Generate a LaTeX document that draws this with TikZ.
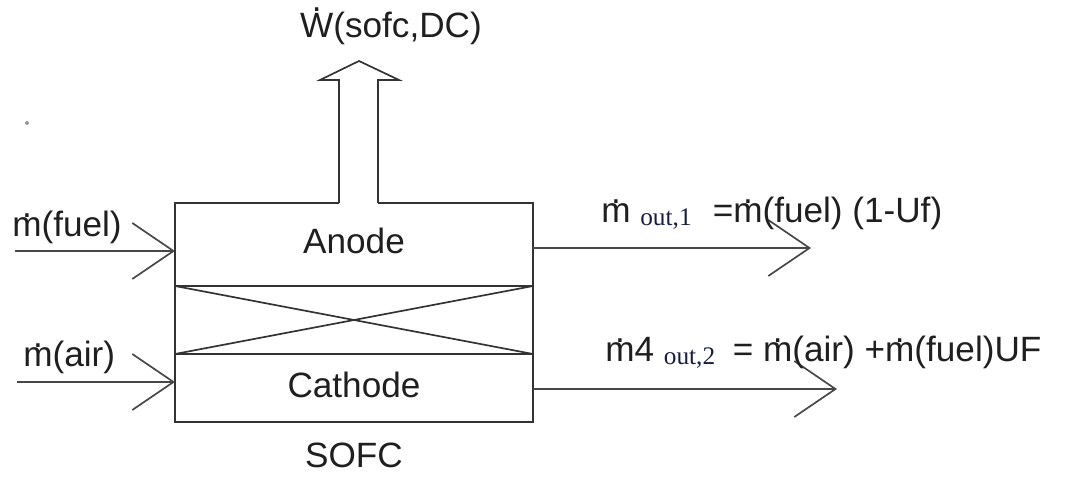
\documentclass[tikz,border=0pt]{standalone}
\usepackage{fontspec}
\setmainfont{Liberation Sans}
\newfontfamily\subfont{Liberation Serif}
\usetikzlibrary{arrows.meta}
\definecolor{subblue}{RGB}{25,30,65}
\newcommand{\flowdot}[2]{\ooalign{#2\cr\hidewidth\raisebox{#1}{.}\hidewidth\cr}}
\newcommand{\mdot}{\flowdot{0.55em}{m}}
\newcommand{\outsub}[1]{\raisebox{-2pt}{\subfont\fontsize{18}{20}\selectfont\color{subblue}out,#1}}
\tikzset{
  lbl/.style={font=\fontsize{25}{30}\selectfont, inner sep=0pt, text=black!88},
  wall/.style={draw=black!80, line width=1.2pt},
  stream/.style={draw=black!72, line width=1.4pt,
    -{Straight Barb[length=1.03cm, width=1.4cm, line width=1.2pt]}},
}
\begin{document}
\begin{tikzpicture}[x=0.025cm, y=-0.025cm]
\useasboundingbox (0,0) rectangle (1067,477);
% cell outline, gap left for the power arrow
\draw[wall] (339,203) -- (175,203) -- (175,422) -- (533,422) -- (533,203) -- (378,203);
\draw[wall] (175,286) -- (533,286);
\draw[wall] (175,354) -- (533,354);
\draw[wall] (175,286) -- (533,354);
\draw[wall] (175,354) -- (533,286);
% power out
\draw[wall] (339,203) -- (339,80) -- (320,80) -- (359,61) -- (399,80) -- (378,80) -- (378,203);
\fill[black!40] (27,123) circle (2);
% stream ends
\coordinate (fuel in) at (15,251);
\coordinate (anode w) at (175,251);
\coordinate (air in) at (17,382);
\coordinate (cathode w) at (175,382);
\coordinate (anode e) at (533,248);
\coordinate (out1 tip) at (811,248);
\coordinate (cathode e) at (533,389);
\coordinate (out2 tip) at (837,389);
\draw[stream] (fuel in) -- (anode w);
\draw[stream] (air in) -- (cathode w);
\draw[stream] (anode e) -- (out1 tip);
\draw[stream] (cathode e) -- (out2 tip);
% labels
\node[lbl, anchor=base] (power) at (391,38) {\flowdot{0.74em}{W}(sofc,DC)};
\node[lbl, anchor=base west] (fuel) at (12,237) {\mdot(fuel)};
\node[lbl, anchor=base west] (air) at (23,367) {\mdot(air)};
\node[lbl, anchor=base] (anode) at (354,254) {Anode};
\node[lbl, anchor=base] (cathode) at (354,398) {Cathode};
\node[lbl, anchor=base] (sofc) at (354,468) {SOFC};
\node[lbl, anchor=base west] (out1) at (601,223) {\mdot\ \outsub{1}\hspace{0.6em}=\mdot(fuel) (1-Uf)};
\node[lbl, anchor=base west] (out2) at (605,362) {\mdot4 \outsub{2}\hspace{0.5em}= \mdot(air) +\mdot(fuel)UF};
\end{tikzpicture}
\end{document}
